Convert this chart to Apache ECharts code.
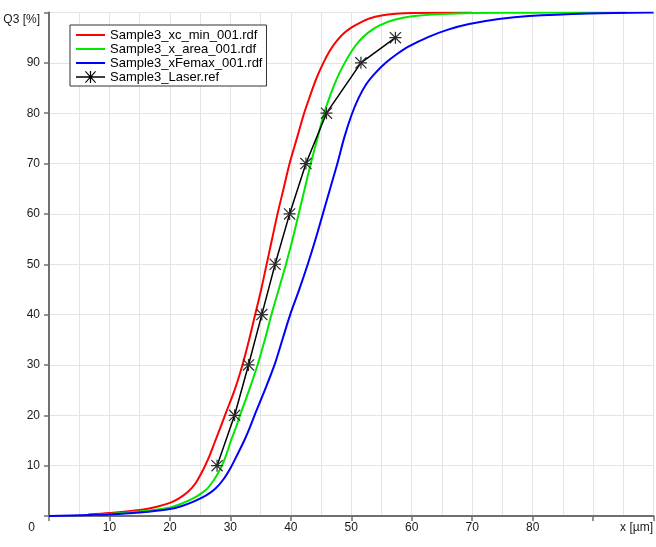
<!DOCTYPE html>
<html>
<head>
<meta charset="utf-8">
<title>Q3 distribution</title>
<script src="https://cdn.jsdelivr.net/npm/echarts@6/dist/echarts.min.js"></script>
<style>
  html, body { margin: 0; padding: 0; background: #fff; }
  #chart { width: 656px; height: 547px; }
</style>
</head>
<body>
<div id="chart"></div>
<script>
// series names
var seriesNames = ['Sample3_xc_min_001.rdf', 'Sample3_x_area_001.rdf', 'Sample3_xFemax_001.rdf', 'Sample3_Laser.ref'];

// [x in µm, Q3 in %]
var xcMin = [
  [6.5, 0.3], [10, 0.6], [15, 1.2], [18, 1.9], [20, 2.6], [21.5, 3.5], [23, 4.8],
  [24.3, 6.6], [25.5, 9.2], [26.5, 11.8], [27.4, 14.6], [28.3, 17.4], [29.2, 20.3],
  [30.7, 25], [32.0, 30], [33.1, 35], [34.1, 40], [35.1, 45], [36.0, 50], [36.9, 55],
  [37.8, 60], [38.8, 65], [39.8, 70], [41.0, 75], [42.2, 80], [43.2, 83.5],
  [44.2, 86.8], [45.3, 89.8], [46.4, 92.3], [47.5, 94.2], [48.6, 95.7], [50, 97.0],
  [51.5, 98.0], [53, 98.8], [55, 99.4], [57.4, 99.75], [60, 99.9], [70, 100]
];
var xArea = [
  [6.5, 0.2], [10, 0.4], [15, 0.9], [20, 1.7], [22, 2.5], [24, 3.6], [25.3, 4.6],
  [26.3, 5.6], [27.3, 7.2], [28.0, 8.6], [28.6, 10], [29.4, 12.4], [30.1, 15],
  [30.9, 17.5], [31.6, 20], [33.1, 25], [34.5, 30], [35.7, 35], [36.8, 40], [38.0, 45],
  [39.2, 50], [40.3, 55], [41.3, 60], [42.3, 65], [43.3, 70], [44.4, 75], [45.5, 80],
  [46.6, 83.8], [47.6, 86.8], [48.6, 89.3], [50, 92.2], [51.3, 94.3], [52.8, 96.0],
  [54.6, 97.4], [57, 98.5], [60.1, 99.25], [65, 99.7], [70, 99.9], [80, 99.97],
  [95.5, 100]
];
var xFemax = [
  [0, 0], [6.5, 0.2], [10, 0.3], [15, 0.7], [20, 1.4], [22, 2.0], [24, 2.9],
  [26, 4.1], [27.5, 5.4], [28.8, 7.2], [30.1, 9.7], [31.2, 12.3], [32.3, 15],
  [33.2, 17.5], [34.0, 20], [35.7, 25], [37.3, 30], [38.6, 35], [39.9, 40], [41.4, 45],
  [42.8, 50], [44.1, 55], [45.3, 60], [46.5, 65], [47.7, 70], [48.8, 75], [50, 79.5],
  [51.2, 83], [52.5, 85.8], [54, 88], [55.7, 90], [57.4, 91.6], [59.6, 93.3],
  [62.9, 95.2], [66, 96.6], [69.5, 97.7], [74.4, 98.7], [79.4, 99.3], [89.3, 99.8],
  [100, 100]
];
var laserRef = [
  [27.8, 10], [30.7, 20], [33.0, 30], [35.2, 40], [37.4, 50], [39.8, 60],
  [42.5, 70], [45.9, 80], [51.6, 90], [57.3, 95]
];

// axis texts
var xAxisTitle = 'x [µm]';
var yAxisTitle = 'Q3 [%]';

// asterisk marker made of four thin bars
var starPath = 'path://M9 0L11 0L11 20L9 20Z M0 9L20 9L20 11L0 11Z ' +
  'M0 1.4L1.4 0L20 18.6L18.6 20Z M18.6 0L20 1.4L1.4 20L0 18.6Z';
// legend icons: plain line, and line with the asterisk on it
var lineIcon = 'path://M0 0L29 0L29 2L0 2Z';
var starLineIcon = 'path://M0 6.3L29 6.3L29 7.7L0 7.7Z ' +
  'M13.9 1L15.1 1L15.1 13L13.9 13Z ' +
  'M9 1.8L9.8 1L20 12.2L19.2 13Z M19.2 1L20 1.8L9.8 13L9 12.2Z';

var chart = echarts.init(document.getElementById('chart'));

var axisColor = '#707070';
var gridColor = '#e4e4e4';
var font = "'Liberation Sans', Arial, sans-serif";

function curve(name, data, color) {
  return {
    name: name,
    type: 'line',
    data: data,
    symbol: 'none',
    smooth: 0.3,
    lineStyle: { color: color, width: 2 },
    itemStyle: { color: color },
    z: 2
  };
}

var option = {
  animation: false,
  backgroundColor: '#ffffff',
  grid: { left: 49, right: 1, top: 12.5, bottom: 31 },
  legend: {
    orient: 'vertical',
    left: 70,
    top: 25,
    padding: [3, 4, 2, 6],
    itemGap: 0,
    itemWidth: 29,
    itemHeight: 14,
    backgroundColor: '#ffffff',
    borderColor: '#333333',
    borderWidth: 1,
    borderRadius: 0,
    textStyle: { fontFamily: font, fontSize: 13, color: '#000', lineHeight: 14 },
    data: [
      { name: seriesNames[0], icon: lineIcon },
      { name: seriesNames[1], icon: lineIcon },
      { name: seriesNames[2], icon: lineIcon },
      { name: seriesNames[3], icon: starLineIcon, itemStyle: { color: '#000' } }
    ]
  },
  xAxis: {
    type: 'value',
    min: 0,
    max: 100,
    interval: 10,
    axisLine: { show: true, onZero: false, lineStyle: { color: axisColor, width: 2 } },
    axisTick: { show: true, length: 5, lineStyle: { color: axisColor, width: 1.5 } },
    axisLabel: {
      margin: 6,
      fontFamily: font,
      fontSize: 12,
      color: '#1a1a1a',
      formatter: function (v) {
        if (v === 0) return '{o|0}';
        if (v === 90) return '';
        if (v === 100) return '{t|' + xAxisTitle + '}';
        return String(v);
      },
      rich: {
        o: { fontFamily: font, fontSize: 12, color: '#1a1a1a', padding: [0, 35, 0, 0] },
        t: { fontFamily: font, fontSize: 12, color: '#1a1a1a', padding: [0, 34, 0, 0] }
      }
    },
    splitLine: { show: true, lineStyle: { color: gridColor, width: 1 } },
    minorTick: { show: false, splitNumber: 2 },
    minorSplitLine: { show: true, lineStyle: { color: gridColor, width: 1 } }
  },
  yAxis: {
    type: 'value',
    min: 0,
    max: 100,
    interval: 10,
    axisLine: { show: true, onZero: false, lineStyle: { color: axisColor, width: 2 } },
    axisTick: { show: true, length: 5, lineStyle: { color: axisColor, width: 1.5 } },
    axisLabel: {
      margin: 9,
      fontFamily: font,
      fontSize: 12,
      color: '#1a1a1a',
      formatter: function (v) {
        if (v === 0) return '';
        if (v === 100) return '{q|' + yAxisTitle + '}';
        return String(v);
      },
      rich: {
        q: { fontFamily: font, fontSize: 12, color: '#1a1a1a', padding: [15, 0, 0, 0] }
      }
    },
    splitLine: { show: true, lineStyle: { color: gridColor, width: 1 } }
  },
  series: [
    curve(seriesNames[0], xcMin, '#ff0000'),
    curve(seriesNames[1], xArea, '#00e800'),
    curve(seriesNames[2], xFemax, '#0000ff'),
    {
      name: seriesNames[3],
      type: 'line',
      data: laserRef,
      symbol: starPath,
      symbolSize: 12,
      showSymbol: true,
      lineStyle: { color: '#000000', width: 1.5 },
      itemStyle: { color: '#2a2a2a' },
      z: 3
    }
  ]
};

chart.setOption(option);
</script>
</body>
</html>
